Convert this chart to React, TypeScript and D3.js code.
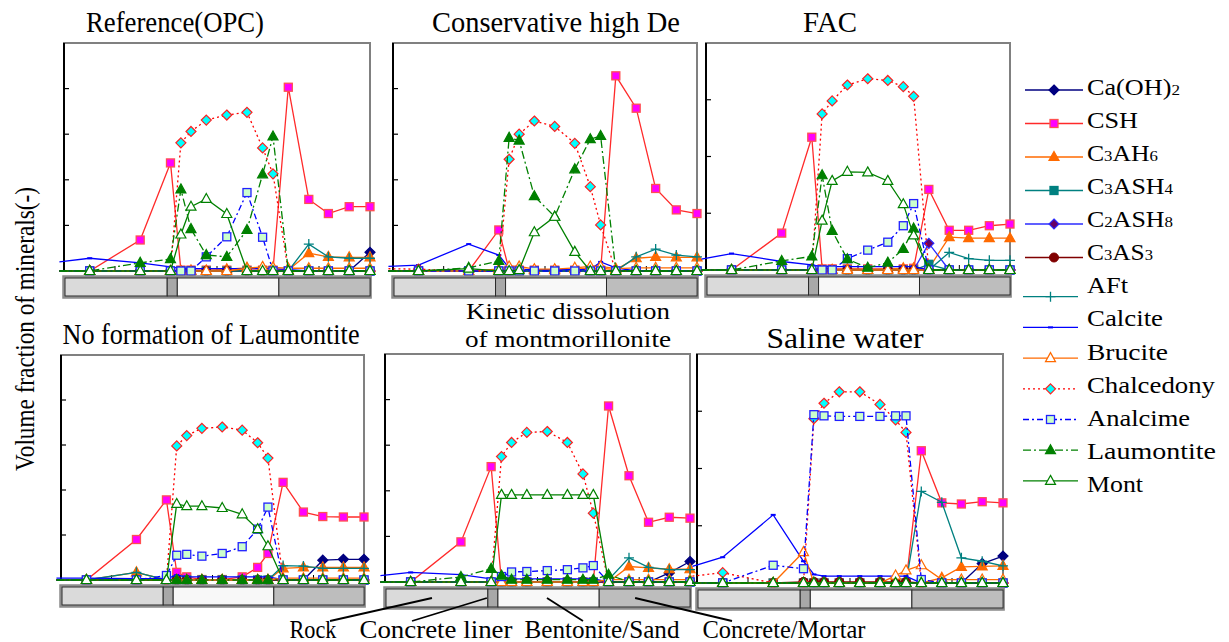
import React from 'react'
import * as d3 from 'd3'

// node positions along the section, 0 = rock side, 1 = centre of concrete/mortar
const distance = [-0.015, 0.084, 0.249, 0.348, 0.382, 0.415, 0.465, 0.532, 0.598, 0.649, 0.683, 0.733, 0.8, 0.864, 0.932, 1.0]

const layerEdges = [0, 0.334, 0.367, 0.699, 0.997]
const layerNames = ['Rock', 'Concrete liner', 'Bentonite/Sand', 'Concrete/Mortar']
const layerFill = ['#dadada', '#a8a8a8', '#f8f8f8', '#bdbdbd']

const mineralKeys = ['cah2', 'csh', 'c3ah6', 'c3ash4', 'c2ash8', 'c3as3', 'aft', 'calcite', 'brucite', 'chalcedony', 'analcime', 'laumontite', 'mont']
// label parts alternate normal / subscript
const mineralLabels = [
  ['Ca(OH)', '2'], ['CSH'], ['C', '3', 'AH', '6'], ['C', '3', 'ASH', '4'], ['C', '2', 'ASH', '8'], ['C', '3', 'AS', '3'],
  ['AFt'], ['Calcite'], ['Brucite'], ['Chalcedony'], ['Analcime'], ['Laumontite'], ['Mont'],
]

const flat = [0, 0, 0, 0, 0, 0, 0, 0, 0, 0, 0, 0, 0, 0, 0, 0]

// volume fractions (-) per mineral, one value per node
const opc = {
  cah2: [0, 0, 0, 0, 0, 0, 0, 0, 0, 0, 0, 0, 0, 0, 0, 0.041],
  csh: [0, 0, 0.068, 0.237, 0.002, 0.002, 0.002, 0.002, 0.002, 0.002, 0.002, 0.403, 0.157, 0.126, 0.141, 0.141],
  c3ah6: [0, 0, 0, 0, 0, 0.001, 0.001, 0.004, 0.007, 0.007, 0.004, 0.002, 0.039, 0.031, 0.03, 0.03],
  aft: [0, 0, 0, 0, 0, 0, 0, 0, 0, 0, 0, 0, 0.059, 0.031, 0.028, 0.028],
  calcite: [0.02, 0.028, 0.018, 0.009, 0.005, 0.005, 0.005, 0.005, 0.005, 0.005, 0.005, 0.003, 0, 0, 0, 0],
  brucite: [0, 0, 0, 0, 0, 0, 0, 0, 0.006, 0.009, 0.008, 0.006, 0.006, 0.006, 0.006, 0.006],
  chalcedony: [0, 0, 0, 0, 0.281, 0.306, 0.331, 0.342, 0.348, 0.27, 0.213, 0, 0, 0, 0, 0],
  analcime: [0, 0, 0, 0, 0, 0, 0.031, 0.075, 0.172, 0.074, 0, 0, 0, 0, 0, 0],
  laumontite: [0, 0, 0.018, 0.026, 0.179, 0.092, 0.035, 0.031, 0.09, 0.212, 0.295, 0, 0, 0, 0, 0],
  mont: [0, 0, 0, 0, 0.08, 0.141, 0.158, 0.125, 0, 0, 0, 0, 0, 0, 0, 0],
}

const highDe = {
  csh: [0, 0, 0, 0.09, 0.002, 0.002, 0.002, 0.002, 0.002, 0.002, 0.002, 0.428, 0.357, 0.181, 0.134, 0.126],
  c3ah6: [0, 0, 0, 0, 0.005, 0.005, 0.002, 0.002, 0.004, 0.006, 0.006, 0.003, 0.028, 0.031, 0.03, 0.03],
  aft: [0, 0, 0, 0, 0, 0, 0, 0, 0, 0, 0, 0, 0.031, 0.048, 0.035, 0.031],
  calcite: [0.01, 0.013, 0.059, 0.035, 0.006, 0.003, 0.003, 0.003, 0.003, 0.003, 0.02, 0.007, 0, 0, 0, 0],
  brucite: [0, 0, 0, 0.004, 0.01, 0.01, 0.004, 0.004, 0.007, 0.01, 0.01, 0.005, 0.007, 0.007, 0.007, 0.007],
  chalcedony: [0.005, 0.004, 0, 0, 0.245, 0.3, 0.329, 0.317, 0.28, 0.185, 0.101, 0, 0, 0, 0, 0],
  laumontite: [0, 0, 0.007, 0.022, 0.292, 0.286, 0.164, 0.119, 0.223, 0.289, 0.296, 0, 0, 0, 0, 0],
  mont: [0, 0, 0.005, 0, 0, 0.002, 0.085, 0.119, 0.042, 0, 0, 0, 0, 0, 0, 0],
}

const fac = {
  csh: [0, 0, 0.065, 0.234, 0.002, 0.002, 0.002, 0.002, 0.002, 0.002, 0.003, 0.142, 0.07, 0.07, 0.078, 0.081],
  c3ah6: [0, 0, 0, 0, 0, 0, 0.002, 0, 0.002, 0.003, 0.003, 0.003, 0.058, 0.056, 0.056, 0.056],
  c3ash4: [0, 0, 0, 0, 0, 0, 0, 0, 0, 0, 0, 0.01, 0, 0, 0, 0],
  c2ash8: [0, 0, 0, 0, 0, 0, 0, 0, 0, 0, 0, 0.047, 0, 0, 0, 0],
  aft: [0, 0, 0, 0, 0, 0, 0, 0, 0, 0, 0, 0, 0.031, 0.02, 0.017, 0.017],
  calcite: [0.019, 0.029, 0.015, 0.009, 0.006, 0.006, 0.006, 0.006, 0.006, 0.006, 0.006, 0, 0, 0, 0, 0],
  chalcedony: [0, 0, 0, 0, 0.275, 0.298, 0.326, 0.337, 0.334, 0.323, 0.306, 0, 0, 0, 0, 0],
  analcime: [0, 0, 0, 0, 0, 0, 0.02, 0.035, 0.049, 0.078, 0.117, 0, 0, 0, 0, 0],
  laumontite: [0, 0, 0.016, 0.024, 0.167, 0.069, 0.019, 0.004, 0.013, 0.037, 0.073, 0, 0, 0, 0, 0],
  mont: [0, 0, 0, 0, 0.087, 0.157, 0.173, 0.172, 0.157, 0.116, 0.061, 0, 0, 0, 0, 0],
}

const noLaumontite = {
  cah2: [0, 0, 0, 0, 0, 0, 0, 0, 0, 0, 0, 0, 0, 0.044, 0.046, 0.046],
  csh: [0, 0, 0.09, 0.178, 0.017, 0.007, 0.001, 0.001, 0.007, 0.028, 0.059, 0.217, 0.151, 0.141, 0.14, 0.14],
  c3ah6: [0, 0, 0.017, 0, 0, 0, 0, 0, 0, 0, 0, 0.026, 0.028, 0.028, 0.028, 0.028],
  aft: [0, 0, 0.017, 0, 0, 0, 0, 0, 0, 0, 0, 0.032, 0.031, 0.026, 0.026, 0.026],
  calcite: [0.004, 0.004, 0.003, 0.003, 0.011, 0.007, 0.007, 0.007, 0.007, 0.007, 0.007, 0.001, 0, 0, 0, 0],
  brucite: [0, 0, 0, 0, 0, 0, 0, 0, 0, 0, 0, 0.004, 0.004, 0.004, 0.004, 0.004],
  chalcedony: [0, 0, 0, 0, 0.298, 0.321, 0.337, 0.34, 0.333, 0.305, 0.271, 0, 0, 0, 0, 0],
  analcime: [0, 0, 0, 0.01, 0.055, 0.057, 0.053, 0.059, 0.074, 0.113, 0.162, 0, 0, 0, 0, 0],
  mont: [0, 0, 0, 0, 0.169, 0.164, 0.164, 0.16, 0.146, 0.113, 0.075, 0, 0, 0, 0, 0],
}

const kinetic = {
  cah2: [0, 0, 0, 0, 0, 0, 0, 0, 0, 0, 0, 0, 0, 0, 0.02, 0.045],
  csh: [0, 0, 0.088, 0.253, 0, 0, 0, 0, 0, 0, 0, 0.386, 0.233, 0.131, 0.142, 0.14],
  c3ah6: [0, 0, 0, 0, 0, 0, 0, 0, 0, 0, 0, 0, 0.034, 0.031, 0.028, 0.028],
  c3as3: [0, 0, 0, 0, 0.001, 0.001, 0.001, 0.001, 0.001, 0.001, 0.001, 0, 0, 0, 0, 0],
  aft: [0, 0, 0, 0, 0, 0, 0, 0, 0, 0, 0, 0.005, 0.053, 0.032, 0.027, 0.027],
  calcite: [0.014, 0.021, 0.016, 0.007, 0.007, 0.007, 0.007, 0.007, 0.007, 0.007, 0.007, 0, 0, 0, 0, 0],
  brucite: [0, 0, 0, 0, 0, 0, 0, 0, 0, 0, 0, 0.005, 0.005, 0.005, 0.005, 0.005],
  chalcedony: [0, 0, 0, 0, 0.275, 0.306, 0.328, 0.33, 0.306, 0.237, 0.151, 0, 0, 0, 0, 0],
  analcime: [0, 0, 0, 0, 0.012, 0.022, 0.023, 0.025, 0.027, 0.031, 0.036, 0, 0, 0, 0, 0],
  laumontite: [0, 0, 0.011, 0.029, 0.014, 0.005, 0.005, 0.005, 0.005, 0.005, 0.005, 0.016, 0, 0, 0, 0],
  mont: [0, 0, 0, 0, 0.191, 0.191, 0.191, 0.191, 0.191, 0.191, 0.191, 0, 0, 0, 0, 0],
}

const saline = {
  cah2: [0, 0, 0, 0, 0, 0, 0, 0, 0, 0, 0, 0, 0, 0, 0.034, 0.047],
  csh: [0, 0, 0, 0, 0, 0, 0, 0, 0, 0, 0, 0.231, 0.14, 0.138, 0.142, 0.14],
  c3ah6: [0, 0, 0, 0, 0, 0, 0, 0, 0, 0, 0, 0, 0.009, 0.028, 0.029, 0.03],
  c3as3: [0, 0, 0, 0.002, 0.002, 0.002, 0.002, 0.002, 0.002, 0.002, 0.002, 0, 0, 0, 0, 0],
  aft: [0, 0, 0, 0, 0, 0, 0, 0, 0, 0, 0, 0.16, 0.141, 0.044, 0.038, 0.03],
  calcite: [0.029, 0.045, 0.119, 0.038, 0.015, 0.012, 0.012, 0.012, 0.012, 0.012, 0.012, 0, 0, 0, 0, 0],
  brucite: [0, 0, 0, 0.054, 0, 0, 0, 0, 0, 0.013, 0.022, 0.031, 0.006, 0.006, 0.006, 0.006],
  chalcedony: [0.012, 0.018, 0, 0, 0.287, 0.314, 0.334, 0.334, 0.312, 0.285, 0.263, 0, 0, 0, 0, 0],
  analcime: [0, 0, 0.031, 0.025, 0.294, 0.292, 0.291, 0.291, 0.291, 0.292, 0.292, 0.006, 0, 0, 0, 0],
}

const styles: any = {
  cah2: { stroke: '#000080', shape: 'diamond', fill: '#000080', edge: '#000080' },
  csh: { stroke: '#ff2a2a', shape: 'square', fill: '#ff00ff', edge: '#ff5050' },
  c3ah6: { stroke: '#ff6a00', shape: 'triangle', fill: '#ff6a00', edge: '#ff6a00' },
  c3ash4: { stroke: '#008080', shape: 'square', fill: '#008080', edge: '#008080' },
  c2ash8: { stroke: '#2b2bff', shape: 'diamond', fill: '#660066', edge: '#2b2bff' },
  c3as3: { stroke: '#800000', shape: 'circle', fill: '#800000', edge: '#800000' },
  aft: { stroke: '#008080', shape: 'plus', fill: 'none', edge: '#008080' },
  calcite: { stroke: '#0000ff', shape: 'dash', fill: '#0000ff', edge: '#0000ff' },
  brucite: { stroke: '#ff6a00', shape: 'triangle', fill: '#ffffff', edge: '#ff6a00' },
  chalcedony: { stroke: '#ff0000', dash: '2,3', shape: 'diamond', fill: '#00ffff', edge: '#ff2020' },
  analcime: { stroke: '#0000ff', dash: '6,3,2,3', shape: 'square', fill: '#ccffcc', edge: '#2020ff' },
  laumontite: { stroke: '#008000', dash: '8,3,2,3', shape: 'triangle', fill: '#008000', edge: '#008000' },
  mont: { stroke: '#008000', shape: 'triangle', fill: '#ffffff', edge: '#008000' },
}

const panels = [
  { title: ['Reference(OPC)'], titleW: [178], titleX: 175, titleY: 32, titleSize: 30, lineGap: 0, left: 64, width: 306, bottom: 271, height: 228, yMax: 0.5, data: opc },
  { title: ['Conservative high De'], titleW: [248], titleX: 556, titleY: 32, titleSize: 30, lineGap: 0, left: 393, width: 304, bottom: 271, height: 228, yMax: 0.5, data: highDe },
  { title: ['FAC'], titleW: [54], titleX: 830, titleY: 32, titleSize: 30, lineGap: 0, left: 706, width: 304, bottom: 270, height: 227, yMax: 0.4, data: fac },
  { title: ['No formation of Laumontite'], titleW: [297], titleX: 211, titleY: 344, titleSize: 30, lineGap: 0, left: 61, width: 303, bottom: 580, height: 225, yMax: 0.5, data: noLaumontite },
  { title: ['Kinetic dissolution', 'of montmorillonite'], titleW: [204, 206], titleX: 568, titleY: 319, titleSize: 24, lineGap: 28, left: 385, width: 305, bottom: 582, height: 228, yMax: 0.5, data: kinetic },
  { title: ['Saline water'], titleW: [157], titleX: 845, titleY: 348, titleSize: 30, lineGap: 0, left: 697, width: 306, bottom: 583, height: 229, yMax: 0.4, data: saline },
]

const serif = '"Liberation Serif", "Times New Roman", serif'
const legendTextW = [93, 51, 71, 86, 86, 66, 41, 76, 81, 128, 103, 129, 56]

function Marker({ shape, x, y, st }: any) {
  const t = `translate(${x},${y})`
  if (shape === 'square') return <rect transform={t} x={-4} y={-4} width={8} height={8} fill={st.fill} stroke={st.edge} strokeWidth={1.3} />
  if (shape === 'diamond') return <path transform={t} d="M0,-5L5,0L0,5L-5,0Z" fill={st.fill} stroke={st.edge} strokeWidth={1.2} />
  if (shape === 'triangle') return <path transform={t} d="M0,-5.5L5,3.5L-5,3.5Z" fill={st.fill} stroke={st.edge} strokeWidth={1.2} />
  if (shape === 'circle') return <circle transform={t} r={4.5} fill={st.fill} stroke={st.edge} />
  if (shape === 'plus') return <path transform={t} d="M-5,0H5M0,-5V5" stroke={st.edge} strokeWidth={1.3} fill="none" />
  return <rect transform={t} x={-2.5} y={-1} width={5} height={2} fill={st.fill} />
}

function Panel({ cfg, leaders }: any) {
  const x = d3.scaleLinear().domain([0, 1]).range([cfg.left, cfg.left + cfg.width])
  const y = d3.scaleLinear().domain([0, cfg.yMax]).range([cfg.bottom, cfg.bottom - cfg.height])
  const line = d3.line<number>().x((d, i) => x(distance[i])).y(d => y(d))
  const ticks = y.ticks(Math.round(cfg.yMax * 10)).filter(t => t > 1e-9 && t < cfg.yMax - 1e-9)
  const barTop = cfg.bottom + 5
  const barH = 22
  return (
    <g>
      <rect x={x(0)} y={y(cfg.yMax)} width={cfg.width} height={cfg.height} fill="#fff" stroke="#808080" strokeWidth={2} />
      {ticks.map(t => <line key={t} x1={x(0)} x2={x(0) + 5} y1={y(t)} y2={y(t)} stroke="#000" strokeWidth={1.2} />)}
      {[1 / 6, 0.5, 5 / 6].map(t => <line key={t} x1={x(t)} x2={x(t)} y1={y(0)} y2={y(0) - 5} stroke="#000" strokeWidth={1} />)}
      <line x1={x(0)} x2={x(1)} y1={y(0)} y2={y(0)} stroke="#000" strokeWidth={1.5} />
      <line x1={x(0)} x2={x(0)} y1={y(0)} y2={y(cfg.yMax)} stroke="#000" strokeWidth={2} />
      {mineralKeys.map(k => {
        const vals = cfg.data[k] || flat
        const st = styles[k]
        return (
          <g key={k}>
            <path d={line(vals) || ''} fill="none" stroke={st.stroke} strokeWidth={1.3} strokeDasharray={st.dash} />
            {vals.map((v: number, i: number) => i === 0 ? null : <Marker key={i} shape={st.shape} x={x(distance[i])} y={y(v)} st={st} />)}
          </g>
        )
      })}
      <rect x={x(layerEdges[0]) - 1} y={barTop} width={x(layerEdges[4]) - x(layerEdges[0]) + 3} height={barH} fill="#9a9a9a" stroke="#8a8a8a" strokeWidth={1.5} />
      {layerNames.map((n, i) => (
        <rect key={n} x={x(layerEdges[i]) + 1} y={barTop + 2} width={x(layerEdges[i + 1]) - x(layerEdges[i])} height={barH - 4}
          fill={layerFill[i]} stroke="#2a2a2a" strokeWidth={1} />
      ))}
      {cfg.title.map((t: string, i: number) => (
        <text key={t} x={cfg.titleX} y={cfg.titleY + i * cfg.lineGap} textAnchor="middle" fontFamily={serif} fontSize={cfg.titleSize}
          textLength={cfg.titleW[i]} lengthAdjust="spacingAndGlyphs">{t}</text>
      ))}
      {leaders && leaders.map((l: any) => (
        <line key={l.name} x1={x(l.at)} y1={barTop + 11} x2={l.x} y2={621} stroke="#000" strokeWidth={1.8} />
      ))}
    </g>
  )
}

// where the layer labels point on the lower middle panel
const leaders = [
  { name: 'Rock', at: 0.154, x: 330, labelX: 313, w: 47 },
  { name: 'Concrete liner', at: 0.334, x: 412, labelX: 436, w: 153 },
  { name: 'Bentonite/Sand', at: 0.531, x: 583, labelX: 602, w: 155 },
  { name: 'Concrete/Mortar', at: 0.82, x: 732, labelX: 784, w: 163 },
]

function Legend() {
  return (
    <g>
      {mineralKeys.map((k, i) => {
        const st = styles[k]
        const ty = 86.7 + i * 33.1
        const ly = i < 6 ? 90 + i * 33.5 : 296.7 + (i - 6) * 30.7
        const x1 = i < 6 ? 1025 : 1023
        const x2 = i < 6 ? 1083 : 1078
        const mx = (x1 + x2) / 2
        const parts = mineralLabels[i]
        return (
          <g key={k}>
            <line x1={x1} x2={x2} y1={ly} y2={ly} stroke={st.stroke} strokeWidth={1.3} strokeDasharray={st.dash} />
            <Marker shape={st.shape} x={mx} y={ly} st={st} />
            <text x={1087} y={ty + 8} fontFamily={serif} fontSize={23} textLength={legendTextW[i]} lengthAdjust="spacingAndGlyphs">
              {parts.map((p, j) => (
                <tspan key={j} fontSize={j % 2 === 1 ? 15 : 23}>{p}</tspan>
              ))}
            </text>
          </g>
        )
      })}
    </g>
  )
}

export default function App() {
  return (
    <svg width={1229} height={642} style={{ position: 'absolute', left: 0, top: 0, background: '#fff' }}>
      <rect width={1229} height={642} fill="#fff" />
      {panels.map((p, i) => <Panel key={i} cfg={p} leaders={i === 4 ? leaders : null} />)}
      <Legend />
      <text transform="translate(34,329) rotate(-90)" textAnchor="middle" fontFamily={serif} fontSize={28}
        textLength={284} lengthAdjust="spacingAndGlyphs">Volume fraction of minerals(-)</text>
      {leaders.map(l => (
        <text key={l.name} x={l.labelX} y={638} textAnchor="middle" fontFamily={serif} fontSize={25}
          textLength={l.w} lengthAdjust="spacingAndGlyphs">{l.name}</text>
      ))}
    </svg>
  )
}
